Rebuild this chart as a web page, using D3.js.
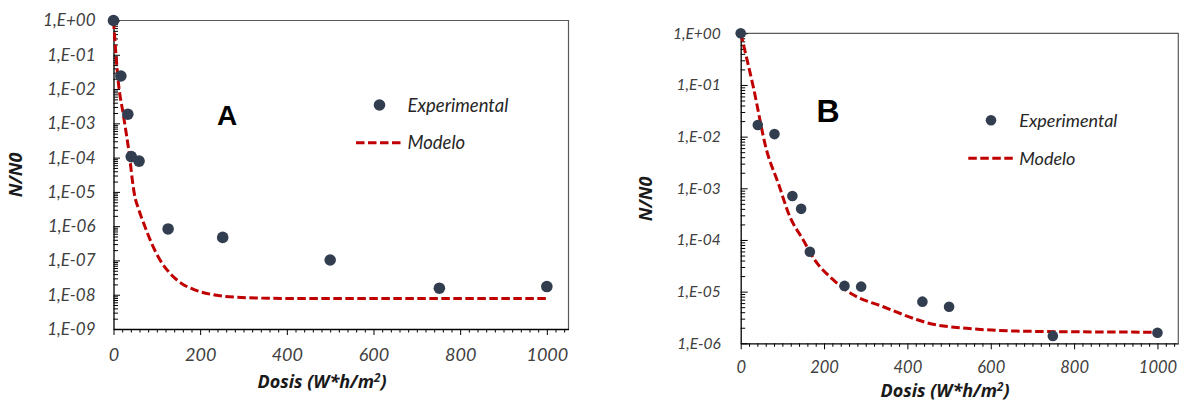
<!DOCTYPE html>
<html>
<head>
<meta charset="utf-8">
<script src="https://cdn.jsdelivr.net/npm/d3@7"></script>
<style>
  html, body { margin: 0; padding: 0; background: #fff; }
  svg { display: block; }
</style>
</head>
<body>
<script>
// ---------------- DATA ----------------
// Panel A – experimental
const doseExpA = [0, 17, 33, 41, 59, 126, 252, 500, 752, 1000];
const survExpA = [1, 2.4e-2, 1.85e-3, 1.07e-4, 7.9e-5, 8.3e-7, 4.7e-7, 1.03e-7, 1.55e-8, 1.73e-8];
// Panel A – model
const doseModA = [0, 4.6, 11, 22.7, 38, 43.4, 47.9, 58.7, 72.5, 88, 107, 130, 157, 188, 234, 296, 400, 1000];
const survModA = [1, 0.155, 1.66e-2, 1.78e-3, 8.7e-5, 2.24e-5, 9.1e-6, 2.95e-6, 9.8e-7, 3.16e-7, 1.05e-7, 4.27e-8, 2.14e-8, 1.38e-8, 9.8e-9, 8.3e-9, 7.8e-9, 7.8e-9];

// Panel B – experimental
const doseExpB = [0, 41, 81, 124, 145, 166, 249, 289, 436, 500, 749, 1000];
const survExpB = [1, 1.68e-2, 1.12e-2, 7.1e-4, 4.0e-4, 5.9e-5, 1.29e-5, 1.25e-5, 6.4e-6, 5.1e-6, 1.39e-6, 1.6e-6];
// Panel B – model
const doseModB = [0, 30, 62, 90, 118, 150, 178, 219, 270, 342, 426, 446, 542, 702, 1000];
const survModB = [1, 9.33e-2, 5.5e-3, 1.26e-3, 2.82e-4, 1.0e-4, 4.07e-5, 1.78e-5, 8.7e-6, 5.1e-6, 2.82e-6, 2.51e-6, 1.95e-6, 1.70e-6, 1.64e-6];

// Axis ticks / labels
const xTickValues = [0, 200, 400, 600, 800, 1000];
const xTickLabels = ["0", "200", "400", "600", "800", "1000"];
const yTickValuesA = [1, 1e-1, 1e-2, 1e-3, 1e-4, 1e-5, 1e-6, 1e-7, 1e-8, 1e-9];
const yTickLabelsA = ["1,E+00", "1,E-01", "1,E-02", "1,E-03", "1,E-04", "1,E-05", "1,E-06", "1,E-07", "1,E-08", "1,E-09"];
const yTickValuesB = [1, 1e-1, 1e-2, 1e-3, 1e-4, 1e-5, 1e-6];
const yTickLabelsB = ["1,E+00", "1,E-01", "1,E-02", "1,E-03", "1,E-04", "1,E-05", "1,E-06"];

const panelLetters = ["A", "B"];
const legendLabels = ["Experimental", "Modelo"];
const xTitleMain = "Dosis (W*h/m";
const xTitleSup = "2";
const xTitleEnd = ")";
const yTitle = "N/N0";

// ---------------- DRAW ----------------
const W = 1179, H = 403;
const svg = d3.select("body").append("svg").attr("width", W).attr("height", H);

const FONT = "Lato, 'Open Sans', 'Liberation Sans', sans-serif";
const TFONT = "'Open Sans', Lato, 'Liberation Sans', sans-serif";
const DOT = "#323E4F";
const RED = "#C00000";

function drawPanel(p) {
  const g = svg.append("g");
  const x = d3.scaleLinear().domain([0, 1050]).range([p.left, p.right]);
  const y = d3.scaleLog().domain([p.yMin, 1]).range([p.bottom, p.top]);

  // frame (top + right)
  g.append("path")
    .attr("d", `M${p.left},${p.top}H${p.right}V${p.bottom}`)
    .attr("fill", "none").attr("stroke", "#5a5a5a").attr("stroke-width", 1.2);

  // minor y ticks
  const minorY = [];
  p.yTicks.forEach(v => { if (v > p.yMin) for (let k = 2; k <= 9; k++) minorY.push(v / 10 * k); });
  const gyMinor = g.append("g").attr("transform", `translate(${p.left},0)`)
    .call(d3.axisLeft(y).tickValues(minorY).tickSizeInner(-p.minorLen).tickSizeOuter(0).tickFormat(""));
  gyMinor.select(".domain").remove();

  // major y axis
  const gy = g.append("g").attr("transform", `translate(${p.left},0)`)
    .call(d3.axisLeft(y).tickValues(p.yTicks).tickSizeInner(-p.majorLen).tickSizeOuter(0)
      .tickPadding(p.yPad).tickFormat((d, i) => p.yLabels[i]));
  gy.select(".domain").attr("stroke", "#000").attr("stroke-width", 1.3);
  gy.selectAll("text").attr("font-family", FONT).attr("font-style", "italic")
    .attr("font-size", p.tickFont).attr("fill", "#404040");

  // minor x ticks
  const minorX = d3.range(20, 1050, 20).filter(v => v % 200 !== 0);
  const gxMinor = g.append("g").attr("transform", `translate(0,${p.bottom})`)
    .call(d3.axisBottom(x).tickValues(minorX).tickSizeInner(3.5).tickSizeOuter(0).tickFormat(""));
  gxMinor.select(".domain").remove();

  const gx = g.append("g").attr("transform", `translate(0,${p.bottom})`)
    .call(d3.axisBottom(x).tickValues(xTickValues).tickSizeInner(6).tickSizeOuter(0)
      .tickPadding(p.xPad).tickFormat((d, i) => xTickLabels[i]));
  gx.select(".domain").attr("stroke", "#000").attr("stroke-width", 1.3);
  gx.selectAll("text").attr("font-family", FONT).attr("font-style", "italic")
    .attr("font-size", p.tickFont + 1).attr("fill", "#404040");

  g.selectAll(".tick line").attr("stroke", "#000");

  // model line
  const modelPts = p.modDose.map((d, i) => [d, p.modSurv[i]]);
  g.append("path")
    .attr("d", d3.line().x(d => x(d[0])).y(d => y(d[1])).curve(d3.curveMonotoneX)(modelPts))
    .attr("fill", "none").attr("stroke", RED).attr("stroke-width", 3)
    .attr("stroke-dasharray", "8.5,3.5");

  // experimental points
  g.selectAll("circle.exp").data(p.expDose.map((d, i) => [d, p.expSurv[i]]))
    .join("circle").attr("class", "exp")
    .attr("cx", d => x(d[0])).attr("cy", d => y(d[1])).attr("r", p.r).attr("fill", DOT);

  // panel letter
  g.append("text").attr("x", p.letterX).attr("y", p.letterY).attr("text-anchor", "middle")
    .attr("font-family", "'Liberation Sans', Arial, sans-serif").attr("font-weight", "bold")
    .attr("font-size", p.letterSize).attr("fill", "#000").text(p.letter);

  // legend
  g.append("circle").attr("cx", p.legDotX).attr("cy", p.legDotY).attr("r", p.r).attr("fill", DOT);
  g.append("text").attr("x", p.legTextX).attr("y", p.legDotY + 6.5)
    .attr("font-family", FONT).attr("font-style", "italic").attr("font-size", p.legFont)
    .attr("fill", "#262626").text(legendLabels[0]);
  g.append("line").attr("x1", p.legLineX1).attr("x2", p.legLineX2)
    .attr("y1", p.legLineY).attr("y2", p.legLineY)
    .attr("stroke", RED).attr("stroke-width", 3).attr("stroke-dasharray", "8.5,3.5");
  g.append("text").attr("x", p.legTextX).attr("y", p.legLineY + 6.5)
    .attr("font-family", FONT).attr("font-style", "italic").attr("font-size", p.legFont)
    .attr("fill", "#262626").text(legendLabels[1]);

  // axis titles
  const xt = g.append("text").attr("x", p.xTitleX).attr("y", p.xTitleY).attr("text-anchor", "middle")
    .attr("font-family", TFONT).attr("font-style", "italic").attr("font-weight", "bold")
    .attr("font-size", p.titleFont).attr("fill", "#1a1a1a");
  xt.append("tspan").text(xTitleMain);
  xt.append("tspan").attr("font-size", p.titleFont * 0.65).attr("dy", -6).text(xTitleSup);
  xt.append("tspan").attr("dy", 6).text(xTitleEnd);

  g.append("text").attr("transform", `translate(${p.yTitleX},${p.yTitleY}) rotate(-90)`)
    .attr("text-anchor", "middle")
    .attr("font-family", TFONT).attr("font-style", "italic").attr("font-weight", "bold")
    .attr("font-size", p.titleFont).attr("fill", "#1a1a1a").text(yTitle);
}

drawPanel({
  left: 113.5, right: 568.5, top: 20.5, bottom: 329, yMin: 1e-9,
  yTicks: yTickValuesA, yLabels: yTickLabelsA,
  expDose: doseExpA, expSurv: survExpA, modDose: doseModA, modSurv: survModA,
  majorLen: 6.5, minorLen: 4.5, yPad: 18, xPad: 13, tickFont: 17, r: 5.8,
  letter: panelLetters[0], letterX: 227, letterY: 125, letterSize: 28,
  legDotX: 379.5, legDotY: 105, legTextX: 407.5, legLineX1: 356, legLineX2: 403.5, legLineY: 142.7, legFont: 18.5,
  xTitleX: 322, xTitleY: 388, yTitleX: 21.5, yTitleY: 175, titleFont: 18
});

drawPanel({
  left: 740.7, right: 1178.3, top: 33.3, bottom: 343.3, yMin: 1e-6,
  yTicks: yTickValuesB, yLabels: yTickLabelsB,
  expDose: doseExpB, expSurv: survExpB, modDose: doseModB, modSurv: survModB,
  majorLen: 7, minorLen: 4.5, yPad: 20, xPad: 12, tickFont: 15.5, r: 5.3,
  letter: panelLetters[1], letterX: 828, letterY: 121.5, letterSize: 32,
  legDotX: 991, legDotY: 120.3, legTextX: 1019.3, legLineX1: 968.3, legLineX2: 1015, legLineY: 158.3, legFont: 18,
  xTitleX: 945, xTitleY: 397, yTitleX: 652, yTitleY: 199, titleFont: 18
});
</script>
</body>
</html>
